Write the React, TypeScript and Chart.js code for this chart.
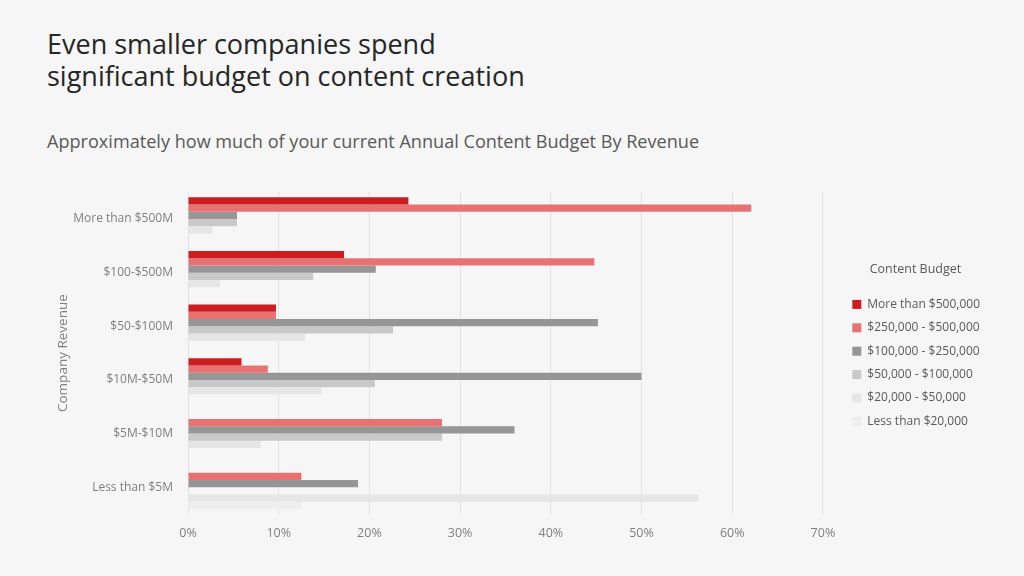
import React, { useEffect, useRef } from 'react';
import { Chart, registerables } from 'chart.js';

Chart.register(...registerables);

const FONT = '"Open Sans", "Noto Sans", sans-serif';

const categories = ['More than $500M', '$100-$500M', '$50-$100M', '$10M-$50M', '$5M-$10M', 'Less than $5M'];
const seriesNames = [
  'More than $500,000',
  '$250,000 - $500,000',
  '$100,000 - $250,000',
  '$50,000 - $100,000',
  '$20,000 - $50,000',
  'Less than $20,000',
];
const seriesColors = ['#cd1d21', '#e87272', '#969696', '#c9c9c9', '#e6e6e6', '#eeeeee'];
const over500k = [24.3, 17.2, 9.7, 5.9, 0, 0];
const from250to500k = [62.1, 44.8, 9.7, 8.8, 28, 12.5];
const from100to250k = [5.4, 20.7, 45.2, 50, 36, 18.75];
const from50to100k = [5.4, 13.8, 22.6, 20.6, 28, 0];
const from20to50k = [2.7, 3.5, 12.9, 14.7, 8, 56.25];
const under20k = [0, 0, 0, 0, 0, 12.5];
const seriesValues = [over500k, from250to500k, from100to250k, from50to100k, from20to50k, under20k];
const xTicks = [0, 10, 20, 30, 40, 50, 60, 70];

export default function App() {
  const ref = useRef<HTMLCanvasElement>(null);

  useEffect(() => {
    if (!ref.current) return;
    const chart = new Chart(ref.current, {
      type: 'bar',
      data: {
        labels: categories,
        datasets: seriesNames.map((name, i) => ({
          label: name,
          data: seriesValues[i],
          backgroundColor: seriesColors[i],
          borderWidth: 0,
          categoryPercentage: 0.81,
          barPercentage: 1,
        })),
      },
      options: {
        indexAxis: 'y',
        responsive: false,
        animation: false,
        layout: { padding: { left: 51, top: 16, bottom: 23, right: 34 } },
        scales: {
          x: {
            min: xTicks[0],
            max: xTicks[xTicks.length - 1],
            ticks: {
              stepSize: 10,
              callback: (v: any) => v + '%',
              color: '#7f7f7f',
              font: { family: FONT, size: 12.5 },
              padding: 12,
            },
            grid: { color: '#e1e1e1', drawTicks: false },
            border: { display: false },
          },
          y: {
            grid: { display: false, drawTicks: false },
            border: { display: false },
            ticks: { color: '#7f7f7f', font: { family: FONT, size: 12 }, padding: 15 },
            title: {
              display: true,
              text: 'Company Revenue',
              color: '#7f7f7f',
              font: { family: FONT, size: 13.5 },
              padding: { top: 4, bottom: 0 },
            },
            afterFit: (s: any) => {
              s.width = 137;
            },
          },
          spacer: {
            type: 'category',
            axis: 'y',
            position: 'right',
            display: true,
            grid: { display: false, drawTicks: false },
            border: { display: false },
            ticks: { display: false },
            afterFit: (s: any) => {
              s.width = 18;
            },
          },
        },
        plugins: {
          tooltip: { enabled: false },
          legend: {
            position: 'right',
            align: 'start',
            labels: {
              boxWidth: 9,
              boxHeight: 9,
              padding: 11.4,
              color: '#595959',
              font: { family: FONT, size: 12 },
            },
            title: {
              display: true,
              text: 'Content Budget',
              color: '#595959',
              font: { family: FONT, size: 12.5 },
              padding: { top: 77, bottom: 9 },
              position: 'center',
            },
          },
        },
      } as any,
    });
    return () => chart.destroy();
  }, []);

  return (
    <div
      style={{
        position: 'absolute',
        left: 0,
        top: 0,
        width: 1024,
        height: 576,
        background: '#f5f6f5',
        overflow: 'hidden',
        fontFamily: FONT,
      }}
    >
      <div
        style={{
          position: 'absolute',
          left: 47,
          top: 28,
          fontSize: 27,
          lineHeight: '32px',
          color: '#262626',
          whiteSpace: 'nowrap',
        }}
      >
        Even smaller companies spend
        <br />
        significant budget on content creation
      </div>
      <div
        style={{
          position: 'absolute',
          left: 47,
          top: 129,
          fontSize: 18.1,
          lineHeight: '24px',
          color: '#595959',
          whiteSpace: 'nowrap',
        }}
      >
        Approximately how much of your current Annual Content Budget By Revenue
      </div>
      <canvas
        ref={ref}
        width={1024}
        height={406}
        style={{ position: 'absolute', left: 0, top: 170, width: 1024, height: 406 }}
      />
    </div>
  );
}
